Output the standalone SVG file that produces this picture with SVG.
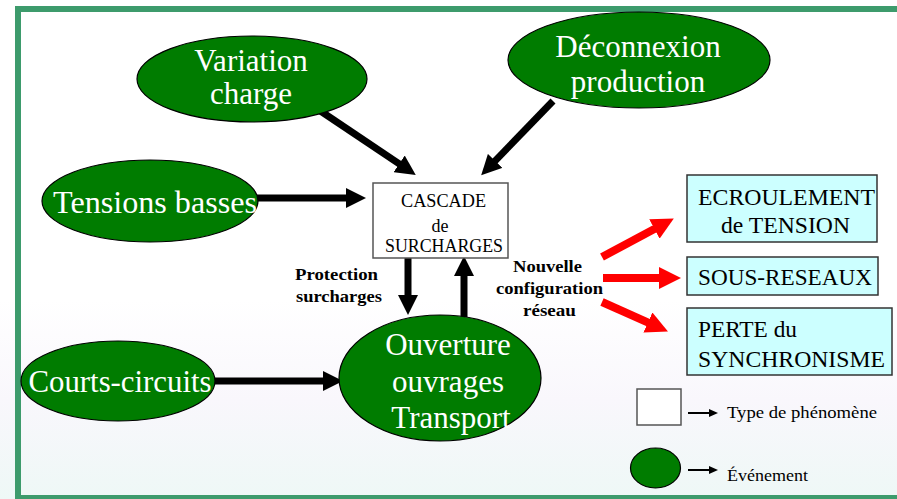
<svg xmlns="http://www.w3.org/2000/svg" width="897" height="499" viewBox="0 0 897 499">
  <defs>
    <linearGradient id="bg" x1="0" y1="0" x2="0" y2="1">
      <stop offset="0" stop-color="#ffffff"/>
      <stop offset="0.6" stop-color="#ffffff"/>
      <stop offset="0.8" stop-color="#f9f7fc"/>
      <stop offset="1" stop-color="#eef8f6"/>
    </linearGradient>
    <marker id="headBlack" viewBox="0 0 20 20" markerUnits="userSpaceOnUse" markerWidth="20" markerHeight="20" refX="1" refY="10" orient="auto">
      <path d="M0,0 L20,10 L0,20 Z" fill="#000"/>
    </marker>
    <marker id="headRed" viewBox="0 0 22 22" markerUnits="userSpaceOnUse" markerWidth="22" markerHeight="22" refX="1" refY="11" orient="auto">
      <path d="M0,0 L22,11 L0,22 Z" fill="#ff0000"/>
    </marker>
    <marker id="headSmall" viewBox="0 0 9 8" markerUnits="userSpaceOnUse" markerWidth="9" markerHeight="8" refX="1" refY="4" orient="auto">
      <path d="M0,0 L9,4 L0,8 Z" fill="#000"/>
    </marker>
  </defs>
  <style>
    .event ellipse { fill: #007c00; stroke: #000; stroke-width: 1.2; }
    .event text { font-family: "Liberation Serif", "Times New Roman", serif; font-size: 31px; fill: #fff; text-anchor: middle; }
    .phen rect { fill: #fff; stroke: #555; stroke-width: 1.5; }
    .phen text { font-family: "Liberation Serif", "Times New Roman", serif; font-size: 18px; fill: #000; text-anchor: middle; }
    .result rect { fill: #ccffff; stroke: #333; stroke-width: 1.5; }
    .result text { font-family: "Liberation Serif", "Times New Roman", serif; font-size: 23px; fill: #000; }
    .lbl { font-family: "Liberation Serif", "Times New Roman", serif; font-size: 17px; font-weight: bold; fill: #000; text-anchor: middle; }
    .legend text { font-family: "Liberation Serif", "Times New Roman", serif; font-size: 17px; fill: #000; }
    .arrow { stroke: #000; stroke-width: 7; fill: none; marker-end: url(#headBlack); }
    .arrowRed { stroke: #ff0000; stroke-width: 8; fill: none; marker-end: url(#headRed); }
    .arrowThin { stroke: #000; stroke-width: 2; fill: none; marker-end: url(#headSmall); }
  </style>

  <!-- background and frame -->
  <rect x="0" y="0" width="897" height="499" fill="url(#bg)"/>
  <rect x="18" y="9" width="900" height="489" fill="none" stroke="#3d9b6c" stroke-width="6"/>

  <!-- connectors -->
  <g id="connectors">
    <line class="arrow" x1="316" y1="108" x2="400" y2="164.4"/>
    <line class="arrow" x1="553" y1="101" x2="494.4" y2="161.6"/>
    <line class="arrow" x1="257" y1="198" x2="347" y2="198"/>
    <line class="arrow" x1="408" y1="258" x2="408" y2="296"/>
    <line class="arrow" x1="464" y1="317" x2="464" y2="275"/>
    <line class="arrow" x1="213" y1="381" x2="324" y2="381"/>
    <line class="arrowRed" x1="602" y1="257" x2="655.3" y2="228.5"/>
    <line class="arrowRed" x1="603" y1="278" x2="660" y2="278"/>
    <line class="arrowRed" x1="602" y1="302" x2="648.8" y2="322.9"/>
  </g>

  <!-- connector labels -->
  <g id="labels">
    <text class="lbl" x="336.5" y="280" textLength="83" lengthAdjust="spacingAndGlyphs">Protection</text>
    <text class="lbl" x="339" y="302" textLength="86" lengthAdjust="spacingAndGlyphs">surcharges</text>
    <text class="lbl" x="547.5" y="272" textLength="69" lengthAdjust="spacingAndGlyphs">Nouvelle</text>
    <text class="lbl" x="549.5" y="294" textLength="107" lengthAdjust="spacingAndGlyphs">configuration</text>
    <text class="lbl" x="549.5" y="316" textLength="53" lengthAdjust="spacingAndGlyphs">réseau</text>
  </g>

  <!-- events -->
  <g id="variation-charge" class="event">
    <ellipse cx="252" cy="79" rx="115" ry="43"/>
    <text x="251" y="71">Variation</text>
    <text x="251" y="104">charge</text>
  </g>
  <g id="deconnexion-production" class="event">
    <ellipse cx="639" cy="60" rx="131" ry="48"/>
    <text x="638" y="57">Déconnexion</text>
    <text x="638" y="92">production</text>
  </g>
  <g id="tensions-basses" class="event">
    <ellipse cx="150" cy="201" rx="108" ry="41"/>
    <text x="155" y="213" textLength="204" lengthAdjust="spacingAndGlyphs">Tensions basses</text>
  </g>
  <g id="courts-circuits" class="event">
    <ellipse cx="118" cy="381" rx="97" ry="40"/>
    <text x="120" y="392" textLength="183" lengthAdjust="spacingAndGlyphs">Courts-circuits</text>
  </g>
  <g id="ouverture-ouvrages" class="event">
    <ellipse cx="440" cy="378" rx="101" ry="63"/>
    <text x="448" y="355">Ouverture</text>
    <text x="448" y="392">ouvrages</text>
    <text x="451" y="428">Transport</text>
  </g>

  <!-- phenomenon -->
  <g id="cascade-surcharges" class="phen">
    <rect x="373" y="183" width="135" height="75"/>
    <text x="443.5" y="207" textLength="85" lengthAdjust="spacingAndGlyphs">CASCADE</text>
    <text x="440" y="232">de</text>
    <text x="444" y="252" textLength="118" lengthAdjust="spacingAndGlyphs">SURCHARGES</text>
  </g>

  <!-- outcomes -->
  <g id="ecroulement-tension" class="result">
    <rect x="687" y="175" width="190" height="67"/>
    <text x="698" y="205" textLength="177" lengthAdjust="spacingAndGlyphs">ECROULEMENT</text>
    <text x="721" y="233" textLength="129" lengthAdjust="spacingAndGlyphs">de TENSION</text>
  </g>
  <g id="sous-reseaux" class="result">
    <rect x="687" y="257" width="191" height="38"/>
    <text x="698" y="285" textLength="174" lengthAdjust="spacingAndGlyphs">SOUS-RESEAUX</text>
  </g>
  <g id="perte-synchronisme" class="result">
    <rect x="687" y="308" width="205" height="67"/>
    <text x="698" y="337" textLength="99" lengthAdjust="spacingAndGlyphs">PERTE du</text>
    <text x="698" y="367" textLength="187" lengthAdjust="spacingAndGlyphs">SYNCHRONISME</text>
  </g>

  <!-- legend -->
  <g id="legend" class="legend">
    <rect x="637" y="389" width="44" height="36" fill="#fff" stroke="#555" stroke-width="1.5"/>
    <line class="arrowThin" x1="688" y1="413" x2="710" y2="413"/>
    <text x="727" y="418" textLength="150" lengthAdjust="spacingAndGlyphs">Type de phénomène</text>
    <ellipse cx="655.5" cy="468" rx="25" ry="20" fill="#007c00" stroke="#000" stroke-width="1.2"/>
    <line class="arrowThin" x1="688" y1="470" x2="710" y2="470"/>
    <text x="727" y="481" textLength="81" lengthAdjust="spacingAndGlyphs">Événement</text>
  </g>
</svg>
